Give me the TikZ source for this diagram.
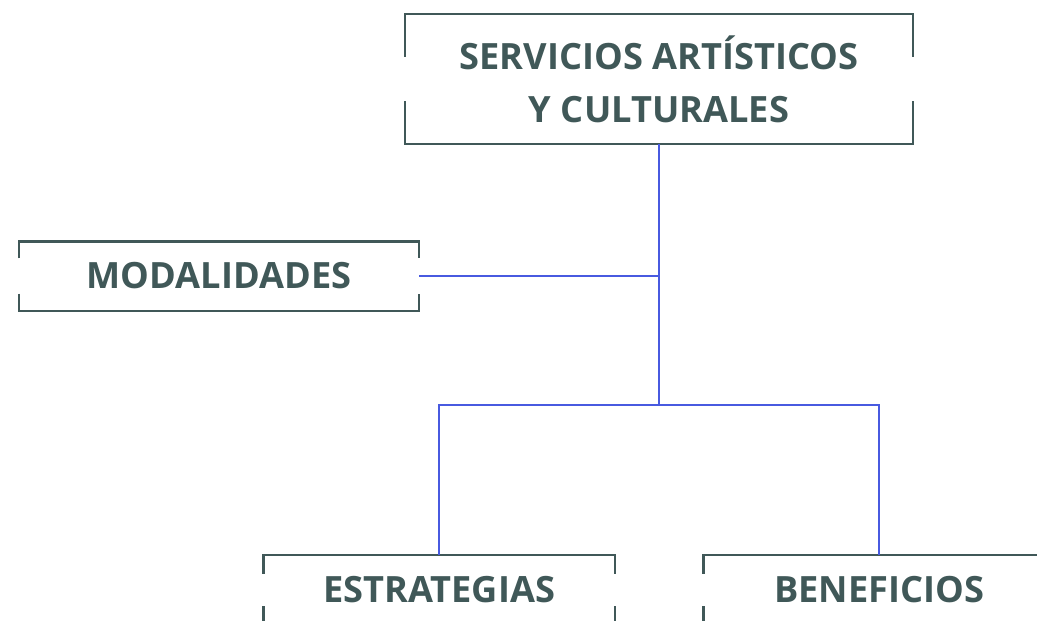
\documentclass[tikz,border=0pt]{standalone}
\usepackage{fontspec}
\setmainfont{Open Sans}
\usetikzlibrary{positioning}
\definecolor{slate}{RGB}{64,88,88}
\definecolor{linkblue}{RGB}{72,90,224}

% open frame: top and bottom rules, short ticks at the corners
\newcommand\openframe[2]{%
  \draw[frame] ([yshift=-#2]#1.north west) -- (#1.north west) -- (#1.north east) -- ([yshift=-#2]#1.north east);
  \draw[frame] ([yshift=#2]#1.south west) -- (#1.south west) -- (#1.south east) -- ([yshift=#2]#1.south east);
}

\begin{document}
\begin{tikzpicture}[x=1pt,y=-1pt]
	\tikzset{every node/.style={font=\fontsize{36.2}{53}\selectfont\bfseries, text=slate, align=center, inner sep=0pt},
	frame/.style={draw=slate, line width=2.4pt},
	link/.style={draw=linkblue, line width=2.2pt}}

	\useasboundingbox (0,0) rectangle (1037,621);

	\node[minimum width=508pt, minimum height=130pt] (top) at (659,79) {SERVICIOS ARTÍSTICOS\\Y CULTURALES};
	\node[minimum width=400pt, minimum height=69pt] (mod) at (219,276) {MODALIDADES};
	\node[minimum width=351pt, minimum height=70pt] (est) at (439,590) {ESTRATEGIAS};
	\node[minimum width=351pt, minimum height=70pt] (ben) at (879,590) {BENEFICIOS};

	\openframe{top}{43pt}
	\openframe{mod}{17pt}
	\openframe{est}{19pt}
	\openframe{ben}{19pt}

	% connectors
	\coordinate (fork) at (659,405);
	\draw[link] (top.south) -- (fork);
	\draw[link] (mod.east) -- (mod.east -| top.south);
	\draw[link] (est.north) -- (est.north |- fork) -- (ben.north |- fork) -- (ben.north);
\end{tikzpicture}
\end{document}
